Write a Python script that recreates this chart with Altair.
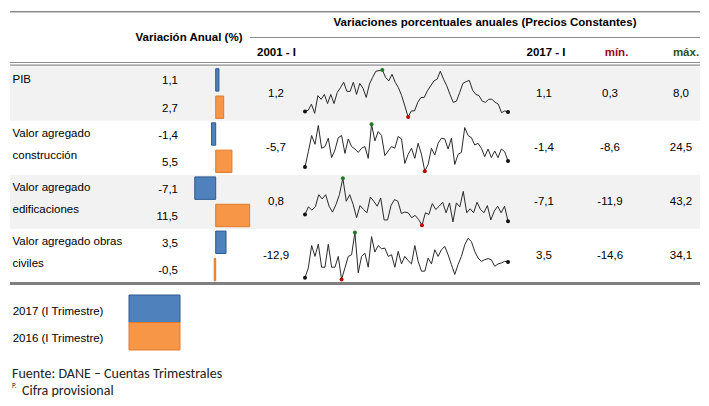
import altair as alt
import pandas as pd

# ---------------- data ----------------
filas = ["PIB", "Valor agregado construcción", "Valor agregado edificaciones",
         "Valor agregado obras civiles"]
etiqueta_l1 = ["PIB", "Valor agregado", "Valor agregado", "Valor agregado obras"]
etiqueta_l2 = ["", "construcción", "edificaciones", "civiles"]
series = ["2017 (I Trimestre)", "2016 (I Trimestre)"]
var_2017 = [1.1, -1.4, -7.1, 3.5]
var_2016 = [2.7, 5.5, 11.5, -0.5]

pib = [1.2, 1.4, 2.4, 0.9, 3.8, 3.2, 4.0, 2.5, 4.0, 2.5, 4.3, 5.1, 6.0, 4.5, 4.5, 6.0,
       4.0, 5.8, 5.0, 3.5, 5.7, 6.8, 7.8, 7.9, 8.0, 6.8, 6.2, 7.3, 6.0, 5.1, 3.8, 2.1,
       0.3, 1.3, 1.3, 2.7, 3.5, 3.5, 4.6, 5.4, 6.2, 6.5, 7.8, 6.5, 5.4, 4.0, 2.7, 2.9,
       4.3, 5.8, 6.1, 6.3, 4.7, 4.0, 3.8, 2.9, 2.7, 3.2, 3.2, 2.7, 2.4, 1.0, 1.3, 1.1]
construccion = [-5.7, 5.1, 16.5, 10.3, 23.5, 7.5, 8.7, 14.6, 0.9, 6.3, 15.0, 16.5, 3.9,
                14.1, 8.7, 7.0, 4.6, 7.5, 8.7, 0.4, 24.5, 12.7, 19.3, 16.5, 2.3, 5.6,
                8.7, 7.5, 15.8, 14.1, -3.2, 3.2, 7.5, 0.4, 11.0, 3.2, -8.6, -3.9, 7.5,
                2.7, 11.0, 14.6, 14.1, 7.0, 14.6, -3.9, 3.2, 4.6, 22.1, 16.5, 15.0, 9.8,
                11.0, 7.5, 1.6, 7.0, 0.9, 5.6, 0.9, 7.0, 5.1, -1.4]
edificaciones = [0.8, 9.7, 5.8, 9.7, 23.9, 18.9, 23.9, 10.4, 3.5, 12.4, 23.9, 43.2, 16.2,
                 23.9, 12.4, -3.0, 11.2, 6.6, 2.7, 21.2, 16.2, 10.4, 20.1, -5.7, -5.7,
                 11.2, 18.2, 16.2, 2.0, 3.5, 2.7, -3.0, -0.3, -5.0, -11.9, 2.7, 0.8, 13.5,
                 6.6, 10.4, 15.1, 2.7, 14.3, -8.0, 14.3, 9.7, 27.8, 2.7, 7.4, 2.7, 15.1,
                 6.6, 2.7, 11.2, -5.7, 4.7, 10.4, 2.7, 10.4, -7.1]
obras_civiles = [-12.9, -2.7, 20.5, 9.2, 21.8, -2.0, -2.0, 21.8, -2.0, -2.0, 9.2, -14.6,
                 -2.7, 9.2, 10.9, 34.1, -7.8, 9.2, 12.6, -2.0, 29.7, 13.7, 20.5, 17.1,
                 17.8, 9.2, 10.9, -2.0, 14.4, 1.4, 9.2, 4.8, 1.4, 20.5, 4.1, -6.1, -6.1,
                 7.5, 1.4, 16.1, 9.2, 16.1, 19.5, 10.9, 0.7, -9.5, 0.7, 9.2, 21.2, 28.0,
                 24.6, 14.4, 7.5, 4.1, 5.8, 6.9, 5.8, -1.0, 1.4, 2.4, 4.1, 3.5]
sparks = [pib, construccion, edificaciones, obras_civiles]

# ---------------- styles ----------------
FONT = "Liberation Sans Narrow, Arial Narrow, Liberation Sans, sans-serif"
FS = 11.5
FOOT = "Carlito, Lato, Open Sans, sans-serif"
BLUE, ORANGE = "#4F81BD", "#F79646"
BLUE_S, ORANGE_S = "#2E5A8E", "#E07B2E"
GRID = "#8C8C8C"

def fmt(v):
    return f"{v:.1f}".replace(".", ",")

ROW_TOP, ROW_BOT = 58.5, 275.0
row_h = (ROW_BOT - ROW_TOP) / len(filas)
row_scale = alt.Scale(domain=filas, range=[ROW_TOP, ROW_BOT], paddingInner=0, paddingOuter=0)
Yrow = alt.Y("fila:N", scale=row_scale, axis=None)

dummy = pd.DataFrame({"k": [0]})

def rule(x1, x2, y, color=GRID, w=1.0):
    return alt.Chart(dummy).mark_rule(color=color, strokeWidth=w).encode(
        x=alt.value(x1), x2=alt.value(x2), y=alt.value(y))

def label(text, x, y, align="center", bold=True, color="#000", size=FS, font=FONT):
    return alt.Chart(dummy).mark_text(
        text=text, align=align, baseline="middle", font=font, fontSize=size,
        fontWeight="bold" if bold else "normal", color=color).encode(
        x=alt.value(x), y=alt.value(y))

layers = []

# row backgrounds
df_rows = pd.DataFrame({"fila": filas, "l1": etiqueta_l1, "l2": etiqueta_l2,
                        "ini": [fmt(s[0]) for s in sparks],
                        "fin": [fmt(s[-1]) for s in sparks],
                        "mn": [fmt(min(s)) for s in sparks],
                        "mx": [fmt(max(s)) for s in sparks]})
layers.append(alt.Chart(df_rows.iloc[[0, 2]]).mark_rect(color="#F2F2F2").encode(
    y=Yrow, x=alt.value(2), x2=alt.value(692)))

# header lines
layers += [rule(2, 692, 3.7, w=1.5), rule(242, 692, 29.5, w=1.2),
           rule(2, 692, 54.5, w=1.2), rule(2, 692, 57.2, w=1.2),
           rule(2, 692, 275.5, color="#7F7F7F", w=3)]

# header texts
layers += [
    label("Variación Anual (%)", 181, 29.5),
    label("Variaciones porcentuales anuales  (Precios Constantes)", 477, 15),
    label("2001 - I", 268.5, 45.3),
    label("2017 - I", 538, 45.3),
    label("mín.", 608.5, 45.3, color="#A0001E"),
    label("máx.", 678, 45.3, color="#2F4F1A"),
]

# row labels
txt = dict(font=FONT, fontSize=FS, baseline="middle", color="#000")
layers.append(alt.Chart(df_rows).mark_text(align="left", dy=-13.5, **txt).encode(
    y=Yrow, x=alt.value(4.5), text="l1:N"))
layers.append(alt.Chart(df_rows).mark_text(align="left", dy=8.5, **txt).encode(
    y=Yrow, x=alt.value(4.5), text="l2:N"))

# bars
df_bar = pd.DataFrame({
    "fila": filas * 2,
    "serie": [series[0]] * 4 + [series[1]] * 4,
    "valor": var_2017 + var_2016,
})
df_bar["texto"] = df_bar["valor"].map(fmt)
yoff = alt.YOffset("serie:N", scale=alt.Scale(domain=series, paddingInner=0.18, paddingOuter=0.08))
fill_scale = alt.Scale(domain=series, range=[BLUE, ORANGE])
stroke_scale = alt.Scale(domain=series, range=[BLUE_S, ORANGE_S])
layers.append(alt.Chart(df_bar).mark_bar(strokeWidth=1).encode(
    y=Yrow, yOffset=yoff,
    x=alt.X("valor:Q", scale=alt.Scale(domain=[0, 10], range=[207.7, 237.2]), axis=None),
    x2=alt.datum(0),
    color=alt.Color("serie:N", scale=fill_scale, legend=None),
    stroke=alt.Stroke("serie:N", scale=stroke_scale, legend=None)))
layers.append(alt.Chart(df_bar).mark_text(align="right", dy=1.5, **txt).encode(
    y=Yrow, yOffset=yoff, x=alt.value(170), text="texto:N"))

# table values
for col, xp in [("ini", 268), ("fin", 536), ("mn", 602), ("mx", 673)]:
    layers.append(alt.Chart(df_rows).mark_text(align="center", **txt).encode(
        y=Yrow, x=alt.value(xp), text=f"{col}:N"))

# sparklines
pt_scale = alt.Scale(domain=["ext", "max", "min"], range=["#111111", "#1E7B1E", "#C00000"])
for k, s in enumerate(sparks):
    n = len(s)
    imax, imin = s.index(max(s)), s.index(min(s))
    tipo = []
    for i in range(n):
        if i == imax:
            tipo.append("max")
        elif i == imin:
            tipo.append("min")
        elif i in (0, n - 1):
            tipo.append("ext")
        else:
            tipo.append("")
    d = pd.DataFrame({"i": list(range(n)), "v": s, "tipo": tipo})
    top = ROW_TOP + k * row_h
    xs = alt.X("i:Q", scale=alt.Scale(domain=[0, n - 1], range=[297, 500]), axis=None)
    ys = alt.Y("v:Q", scale=alt.Scale(domain=[min(s), max(s)], range=[top + 50.5, top + 3.5],
                                      zero=False, nice=False), axis=None)
    layers.append(alt.Chart(d).mark_line(color="#2A2A2A", strokeWidth=1).encode(x=xs, y=ys))
    layers.append(alt.Chart(d[d["tipo"] != ""]).mark_point(filled=True, size=16, opacity=1).encode(
        x=xs, y=ys, color=alt.Color("tipo:N", scale=pt_scale, legend=None)))

# custom legend
df_leg = pd.DataFrame({"serie": series})
leg_y = alt.Y("serie:N", scale=alt.Scale(domain=series, range=[287, 342],
                                          paddingInner=0, paddingOuter=0), axis=None)
layers.append(alt.Chart(df_leg).mark_rect(strokeWidth=1).encode(
    y=leg_y, x=alt.value(121), x2=alt.value(172),
    color=alt.Color("serie:N", scale=fill_scale, legend=None),
    stroke=alt.Stroke("serie:N", scale=stroke_scale, legend=None)))
layers.append(alt.Chart(df_leg).mark_text(align="left", dy=3, **txt).encode(
    y=leg_y, x=alt.value(4.7), text="serie:N"))

# footer
layers += [
    label("Fuente: DANE – Cuentas Trimestrales", 4, 366, align="left", bold=False,
          size=14, font=FOOT, color="#222"),
    label("P.", 4, 378, align="left", bold=False, size=7, font=FOOT, color="#222"),
    label("Cifra provisional", 14, 383, align="left", bold=False, size=14, font=FOOT,
          color="#222"),
]

chart = alt.layer(*layers).resolve_scale(
    x="independent", y="independent", color="independent", stroke="independent"
).properties(
    width=693, height=390, padding=0, autosize=alt.AutoSizeParams(type="none")
).configure_view(stroke=None)

chart.save("out.html", embed_options={"renderer": "svg", "actions": False})
